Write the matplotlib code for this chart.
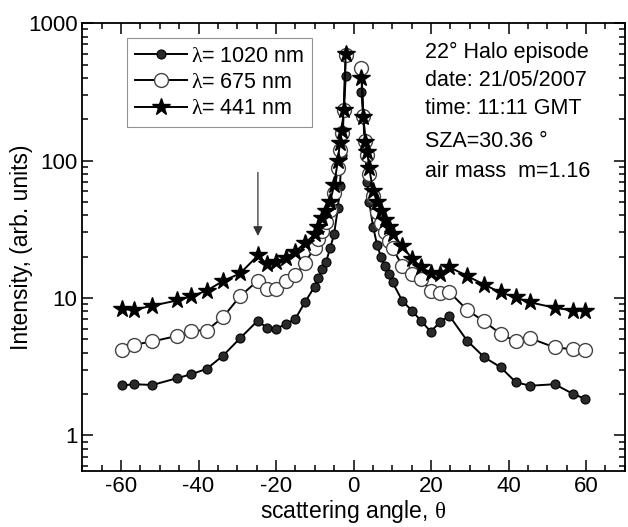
"""
Halo episode almucantar intensities at three wavelengths
saved as out.png
"""
import matplotlib.pyplot as plt
from matplotlib.ticker import MultipleLocator, LogLocator, NullFormatter

# scattering angles (deg), left branch then right branch
angles = [-59.69, -56.70, -51.91, -45.55, -41.87, -37.92, -33.70, -29.28,
          -24.68, -22.31, -19.90, -17.47, -15.03, -12.56, -10.07, -9.07,
          -8.06, -7.06, -6.06, -5.05, -4.04, -3.54, -3.03, -2.53, -2.02,
          2.02, 2.53, 3.03, 3.54, 4.04, 5.05, 6.06, 7.06, 8.06, 9.07,
          10.07, 12.56, 15.03, 17.47, 19.90, 22.31, 24.68, 29.28, 33.70,
          37.92, 41.87, 45.55, 51.91, 56.70, 59.69]

int_1020 = [2.31, 2.36, 2.33, 2.61, 2.79, 3.05, 3.8, 5.1, 6.86, 6.03, 6.0,
            6.45, 7.06, 9.3, 12.1, 13.9, 16.3, 18.4, 23, 29, 45, 65, 110,
            230, 410,
            318, 200, 110, 70, 50, 33, 24.4, 20, 17.1, 15, 13, 9.55, 8.1,
            6.8, 5.7, 6.67, 7.46, 4.9, 3.71, 3.14, 2.44, 2.3, 2.36, 2.0, 1.85]

int_675 = [4.2, 4.57, 4.83, 5.3, 5.8, 5.8, 7.25, 10.3, 13.4, 11.6, 11.7,
           13.2, 14.7, 17.9, 23.3, 27, 31, 36, 44, 58, 88, 120, 160, 234, 590,
           470, 210, 140, 110, 80, 55, 42, 35, 30, 26, 23, 17.2, 15, 13.8,
           11.3, 10.8, 11.1, 8.2, 6.75, 5.5, 4.83, 5.1, 4.37, 4.24, 4.2]

int_441 = [8.3, 8.2, 8.8, 9.6, 10.3, 11.3, 13.3, 15.1, 20.4, 17.7, 18.2,
           19.7, 21.8, 25, 29, 33, 38, 43, 50, 66, 100, 134, 165, 234, 600,
           400, 209, 137, 116, 88, 60, 50, 43, 37, 33, 29, 24.1, 19.3, 16.9,
           15.1, 15, 16.8, 14.5, 12.5, 11, 10.1, 9.3, 8.5, 8.1, 8.1]

labels = [r'$\lambda$= 1020 nm', r'$\lambda$= 675 nm', r'$\lambda$= 441 nm']

info_lines = ['22° Halo episode', 'date: 21/05/2007', 'time: 11:11 GMT',
              'SZA=30.36 °', 'air mass  m=1.16']


def split(values):
    # the two branches are drawn as separate lines, sharing one label
    n = len(angles) // 2
    return (angles[:n], values[:n]), (angles[n:], values[n:])


def main():
    plt.rcParams['font.family'] = ['Liberation Sans', 'DejaVu Sans']
    plt.rcParams['mathtext.fontset'] = 'custom'
    plt.rcParams['mathtext.it'] = 'Liberation Serif'
    plt.rcParams['mathtext.rm'] = 'Liberation Serif'
    plt.rcParams['axes.unicode_minus'] = False

    fig = plt.figure(figsize=(6.28, 5.27), dpi=100)
    ax = fig.add_axes([0.131, 0.106, 0.864, 0.850])

    styles = [
        dict(marker='o', markersize=6.5, markerfacecolor='#2a2a2a',
             markeredgecolor='black', markeredgewidth=0.8),
        dict(marker='o', markersize=10, markerfacecolor='white',
             markeredgecolor='#444444', markeredgewidth=1.0),
        dict(marker='*', markersize=13, markerfacecolor='black',
             markeredgecolor='black'),
    ]
    for values, label, style in zip([int_1020, int_675, int_441],
                                    labels, styles):
        (xl, yl), (xr, yr) = split(values)
        ax.plot(xl, yl, color='black', lw=1.4, label=label, **style)
        ax.plot(xr, yr, color='black', lw=1.4, **style)

    ax.set_yscale('log')
    ax.set_xlim(-70, 70)
    ax.set_ylim(0.55, 1000)
    ax.xaxis.set_major_locator(MultipleLocator(20))
    ax.xaxis.set_minor_locator(MultipleLocator(5))
    ax.yaxis.set_major_locator(LogLocator(base=10))
    ax.yaxis.set_minor_locator(LogLocator(base=10, subs=range(2, 10)))
    ax.yaxis.set_minor_formatter(NullFormatter())
    ax.set_yticks([1, 10, 100, 1000])
    ax.set_yticklabels(['1', '10', '100', '1000'])
    ax.tick_params(which='both', direction='in', top=True, right=True,
                   labelsize=16, width=1.1)
    ax.tick_params(which='major', length=8)
    ax.tick_params(which='minor', length=4)
    for sp in ax.spines.values():
        sp.set_linewidth(1.3)

    ax.set_xlabel(r'scattering angle, $\theta$', fontsize=16.5, labelpad=1)
    ax.set_ylabel('Intensity, (arb. units)', fontsize=16.5, labelpad=-4)

    leg = ax.legend(loc='upper left', bbox_to_anchor=(0.083, 0.967),
                    borderaxespad=0, fontsize=15.5, frameon=True,
                    fancybox=False, handlelength=2.4, handletextpad=0.2,
                    borderpad=0.35, labelspacing=0.25)
    leg.get_frame().set_edgecolor('#777777')
    leg.get_frame().set_linewidth(0.8)

    ys = [0.935, 0.873, 0.810, 0.735, 0.668]
    for text, y in zip(info_lines, ys):
        ax.text(0.632, y, text, transform=ax.transAxes, fontsize=15.5,
                va='center', ha='left')

    # arrow pointing at the halo bump
    ax.annotate('', xy=(-24.68, 27), xytext=(-24.68, 86),
                arrowprops=dict(arrowstyle='-|>', color='#333333', lw=0.9,
                                mutation_scale=14))

    fig.savefig('out.png', dpi=100)


if __name__ == '__main__':
    main()
